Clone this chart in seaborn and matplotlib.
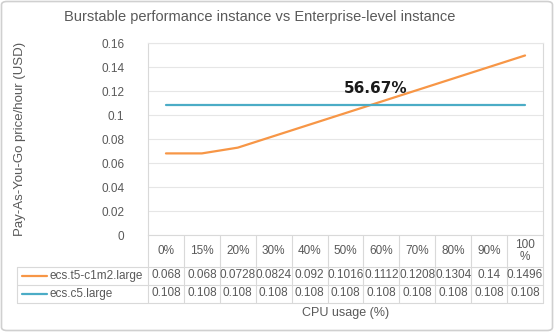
import matplotlib
matplotlib.use("Agg")
import matplotlib.pyplot as plt
import seaborn as sns
import pandas as pd
from matplotlib.patches import FancyBboxPatch
from matplotlib.lines import Line2D

categories = ["0%", "15%", "20%", "30%", "40%", "50%", "60%", "70%", "80%", "90%", "100\n%"]
t5_values = [0.068, 0.068, 0.0728, 0.0824, 0.092, 0.1016, 0.1112, 0.1208, 0.1304, 0.14, 0.1496]
c5_values = [0.108] * 11
t5_labels = ["0.068", "0.068", "0.0728", "0.0824", "0.092", "0.1016", "0.1112", "0.1208", "0.1304", "0.14", "0.1496"]
c5_labels = ["0.108"] * 11
series_names = ["ecs.t5-c1m2.large", "ecs.c5.large"]
ytick_values = [0, 0.02, 0.04, 0.06, 0.08, 0.10, 0.12, 0.14, 0.16]
ytick_labels = ["0", "0.02", "0.04", "0.06", "0.08", "0.1", "0.12", "0.14", "0.16"]
annotation_text = "56.67%"
annotation_pos = (5.85, 0.1217)

ORANGE = "#F79646"
BLUE = "#4BACC6"
GRID = "#D9D9D9"
PGRID = "#E6E6E6"
TXT = "#595959"

sns.set_theme(style="white")
plt.rcParams["font.family"] = ["Liberation Sans", "DejaVu Sans"]

W, H = 554, 332
fig = plt.figure(figsize=(W / 100, H / 100), dpi=100)

def fx(x):
    return x / W

def fy(y):
    return 1 - y / H

# outer rounded border
fig.patches.append(FancyBboxPatch((fx(1.5), fy(330.5)), fx(551), 1 - fy(329), transform=fig.transFigure,
                                  boxstyle="round,pad=0,rounding_size=0.01", fill=False,
                                  edgecolor="#D0D0D0", linewidth=1.2))

L, R, T, B = 148, 543, 43, 235
ax = fig.add_axes([fx(L), fy(B), fx(R - L), (B - T) / H])

n = len(categories)
df = pd.DataFrame({
    "pos": list(range(n)) * 2,
    "price": t5_values + c5_values,
    "series": [series_names[0]] * n + [series_names[1]] * n,
})
sns.lineplot(data=df, x="pos", y="price", hue="series", palette=[ORANGE, BLUE],
             linewidth=1.6, ax=ax, legend=False)

ax.set_xlim(-0.5, n - 0.5)
ax.set_ylim(0, 0.16)
ax.set_yticks(ytick_values)
ax.set_yticklabels(ytick_labels, color=TXT, fontsize=8.5)
ax.set_xticks([])
ax.set_xlabel("")
ax.set_ylabel("")
ax.tick_params(axis="y", length=0, pad=17)
ax.yaxis.grid(True, color=PGRID, linewidth=0.8)
ax.set_axisbelow(True)
for s in ["left", "right", "top", "bottom"]:
    ax.spines[s].set_color(GRID)
    ax.spines[s].set_linewidth(0.8)
ax.spines["top"].set_color(PGRID)
ax.patch.set_alpha(0)

ax.text(annotation_pos[0], annotation_pos[1], annotation_text, fontsize=11, fontweight="bold",
        family=["DejaVu Sans"], ha="center", va="center", color="#1a1a1a")

# data table
col_w = (R - L) / n
rows_y = [B, 266.5, 284.5, 302.5]
def hline(y, x0, x1):
    fig.add_artist(Line2D([fx(x0), fx(x1)], [fy(y), fy(y)], color=GRID, linewidth=0.8, transform=fig.transFigure))
def vline(x, y0, y1):
    fig.add_artist(Line2D([fx(x), fx(x)], [fy(y0), fy(y1)], color=GRID, linewidth=0.8, transform=fig.transFigure))

TL = 17
hline(rows_y[1], TL, R)
hline(rows_y[2], TL, R)
hline(rows_y[3], TL, R)
vline(TL, rows_y[1], rows_y[3])
for i in range(n + 1):
    vline(L + i * col_w, B, rows_y[3])

for i, cat in enumerate(categories):
    cx = L + (i + 0.5) * col_w
    fig.text(fx(cx), fy((rows_y[0] + rows_y[1]) / 2 + 0.5), cat, ha="center", va="center",
             fontsize=8.5, color=TXT, linespacing=1.0)
    fig.text(fx(cx), fy((rows_y[1] + rows_y[2]) / 2), t5_labels[i], ha="center", va="center",
             fontsize=8.5, color=TXT)
    fig.text(fx(cx), fy((rows_y[2] + rows_y[3]) / 2), c5_labels[i], ha="center", va="center",
             fontsize=8.5, color=TXT)

for j, (name, col) in enumerate(zip(series_names, [ORANGE, BLUE])):
    yc = (rows_y[1 + j] + rows_y[2 + j]) / 2
    fig.add_artist(Line2D([fx(21.5), fx(46.5)], [fy(yc), fy(yc)], color=col, linewidth=1.6, transform=fig.transFigure))
    fig.text(fx(49), fy(yc), name, ha="left", va="center", fontsize=8.5, color=TXT)

fig.text(fx((L + R) / 2), fy(313), "CPU usage (%)", ha="center", va="center", fontsize=9, color=TXT)
fig.text(fx(20), fy((T + B) / 2), "Pay-As-You-Go price/hour (USD)", ha="center", va="center",
         rotation=90, fontsize=9.5, color=TXT)
fig.text(fx(260), fy(17), "Burstable performance instance vs Enterprise-level instance",
         ha="center", va="center", fontsize=10.5, color=TXT)

fig.savefig("out.png", dpi=100)
